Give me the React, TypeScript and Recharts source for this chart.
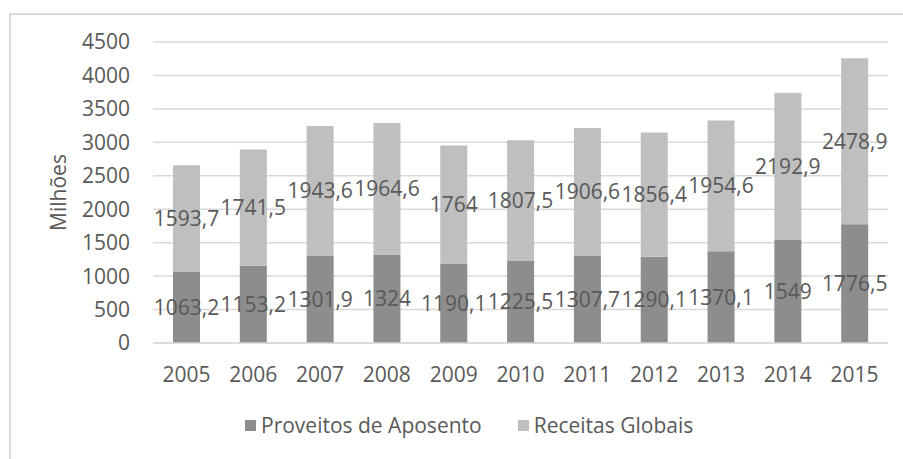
import { BarChart, Bar, XAxis, YAxis, CartesianGrid, Legend, LabelList } from "recharts";

const years = ["2005", "2006", "2007", "2008", "2009", "2010", "2011", "2012", "2013", "2014", "2015"];
const proveitos = [1063.2, 1153.2, 1301.9, 1324, 1190.1, 1225.5, 1307.7, 1290.1, 1370.1, 1549, 1776.5];
const receitas = [1593.7, 1741.5, 1943.6, 1964.6, 1764, 1807.5, 1906.6, 1856.4, 1954.6, 2192.9, 2478.9];
const yTicks = [0, 500, 1000, 1500, 2000, 2500, 3000, 3500, 4000, 4500];

const data = years.map((year, i) => ({
  year,
  proveitos: proveitos[i],
  receitas: receitas[i],
}));

const TEXT = "#595959";
const FONT = "'Open Sans', sans-serif";
const DARK = "#8d8d8d";
const LIGHT = "#bfbfbf";
const FS = 21;

const fmt = (v: any) => String(v).replace(".", ",");

function LegendContent() {
  const items = [
    { name: "Proveitos de Aposento", color: DARK },
    { name: "Receitas Globais", color: LIGHT },
  ];
  return (
    <div style={{ display: "flex", alignItems: "center", fontFamily: FONT, fontSize: 21, color: TEXT, whiteSpace: "nowrap" }}>
      {items.map((it, i) => (
        <span key={it.name} style={{ display: "flex", alignItems: "center", marginRight: i === 0 ? 36 : 0 }}>
          <span style={{ width: 11, height: 11, background: it.color, marginRight: 5, display: "inline-block" }} />
          {it.name}
        </span>
      ))}
    </div>
  );
}

export default function App() {
  return (
    <div style={{ position: "relative", width: 903, height: 459, overflow: "hidden", background: "#fff" }}>
      <style>{`body{margin:0;overflow:hidden}`}</style>
      <div
        style={{
          position: "absolute",
          left: 9,
          top: 13,
          width: 960,
          height: 500,
          border: "2px solid #d9d9d9",
          boxSizing: "border-box",
        }}
      />
      <div style={{ position: "absolute", left: 0, top: 0 }}>
        <BarChart
          width={903}
          height={459}
          data={data}
          margin={{ top: 42, right: 15, left: 0, bottom: 86 }}
          barSize={27}
        >
          <CartesianGrid vertical={false} stroke="#d9d9d9" strokeWidth={1.5} />
          <XAxis
            dataKey="year"
            height={30}
            axisLine={{ stroke: "#d9d9d9", strokeWidth: 1.5 }}
            tickLine={false}
            tickSize={0}
            tickMargin={24}
            interval={0}
            tick={{ fill: TEXT, fontSize: FS, fontFamily: FONT }}
          />
          <YAxis
            width={153}
            domain={[0, 4500]}
            ticks={yTicks}
            interval={0}
            axisLine={false}
            tickLine={false}
            tickSize={0}
            tickMargin={23}
            tick={{ fill: TEXT, fontSize: FS, fontFamily: FONT }}
            label={{
              value: "Milhões",
              angle: -90,
              position: "center",
              dx: -18,
              style: { fill: TEXT, fontSize: FS, fontFamily: FONT },
            }}
          />
          <Legend
            layout="horizontal"
            verticalAlign="middle"
            content={<LegendContent />}
            wrapperStyle={{ left: 245, top: 411, width: "auto" }}
          />
          <Bar dataKey="proveitos" name="Proveitos de Aposento" stackId="a" fill={DARK} isAnimationActive={false}>
            <LabelList
              dataKey="proveitos"
              position="center"
              formatter={fmt}
              style={{ fill: TEXT, fontSize: FS, fontFamily: FONT }}
            />
          </Bar>
          <Bar dataKey="receitas" name="Receitas Globais" stackId="a" fill={LIGHT} isAnimationActive={false}>
            <LabelList
              dataKey="receitas"
              position="center"
              formatter={fmt}
              style={{ fill: TEXT, fontSize: FS, fontFamily: FONT }}
            />
          </Bar>
        </BarChart>
      </div>
    </div>
  );
}
